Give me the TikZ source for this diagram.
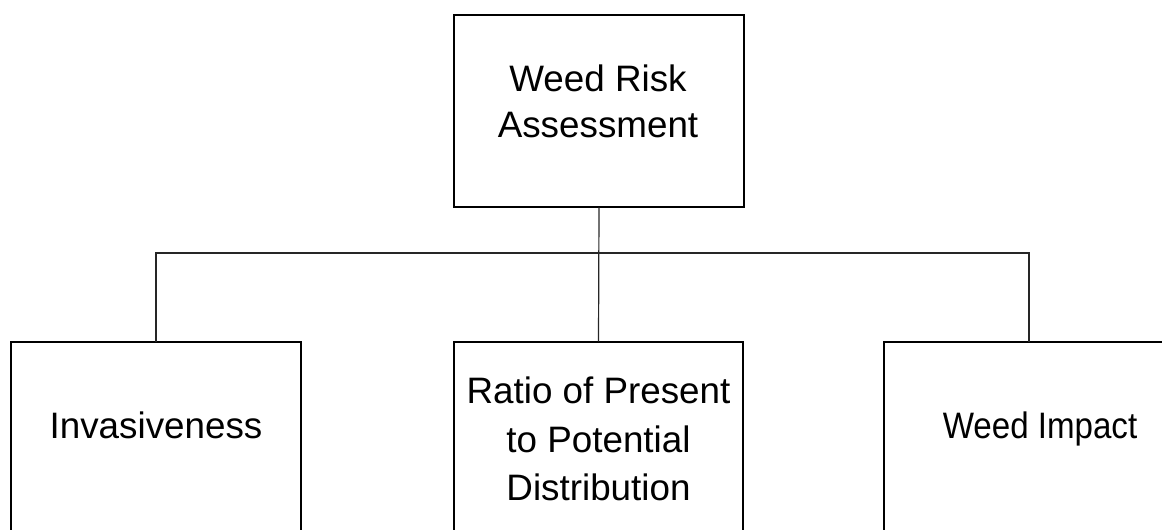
\documentclass[tikz,border=0pt]{standalone}
\usepackage{fontspec}
\setmainfont{Liberation Sans}
\begin{document}
\begin{tikzpicture}[x=0.75pt,y=-0.75pt,
  boxnode/.style={inner sep=0pt,minimum width=290*0.75pt,minimum height=218*0.75pt},
  box/.style={draw=black,line width=1.5pt},
  conn/.style={draw=black!85,line width=0.9pt},
  lbl/.style={inner sep=0pt,align=center,font=\fontsize{27.6pt}{36.4pt}\selectfont},
  toplbl/.style={inner sep=0pt,align=center,font=\fontsize{27.6pt}{35pt}\selectfont}]
\useasboundingbox (0,0) rectangle (1162,529);
\clip (0,0) rectangle (1162,529);
% boxes
\node[boxnode,minimum height=192*0.75pt] (top) at (599,111) {};
\node[boxnode] (lft) at (156,451) {};
\node[boxnode,minimum width=289*0.75pt] (mid) at (598.5,451) {};
\node[boxnode] (rgt) at (1029,451) {};
\draw[box] (top.north west) rectangle (top.south east);
\draw[box] (lft.north west) rectangle (lft.south east);
\draw[box] (mid.north west) rectangle (mid.south east);
\draw[box] (rgt.north west) rectangle (rgt.south east);
% labels
\node[toplbl] (ttop) at (598,101.5) {Weed Risk\\Assessment};
\node[lbl,anchor=base] (tlft) at (156,438) {Invasiveness};
\node[lbl] (tmid) at (598.5,439) {Ratio of Present\\to Potential\\Distribution};
\node[lbl,anchor=base] (trgt) at (1040,438) {\scalebox{0.9}[1]{Weed Impact}};
% connectors
\coordinate (bar) at (598.5,253);
\draw[conn] (top.south) -- (mid.north);
\draw[conn] (lft.north) |- (bar) -| (rgt.north);
\end{tikzpicture}
\end{document}
